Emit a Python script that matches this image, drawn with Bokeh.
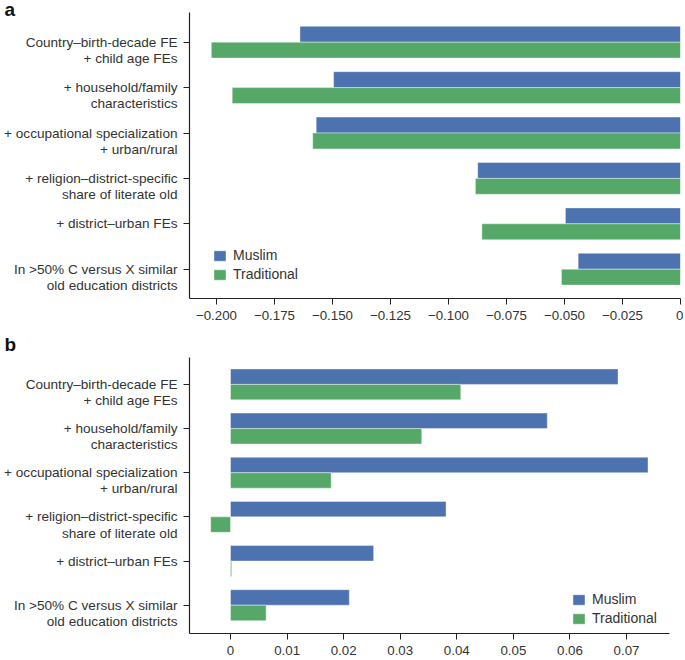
from bokeh.plotting import figure
from bokeh.models import ColumnDataSource, Range1d, FixedTicker
from bokeh.layouts import column
from bokeh.transform import dodge
from bokeh.embed import file_html
from bokeh.resources import INLINE

categories = [
    "Country\u2013birth-decade FE\n+ child age FEs",
    "+ household/family\ncharacteristics",
    "+ occupational specialization\n+ urban/rural",
    "+ religion\u2013district-specific\nshare of literate old",
    "+ district\u2013urban FEs",
    "In >50% C versus X similar\nold education districts",
]
rows = [0, 1, 2, 3, 4, 5]

muslim_a = [-0.164, -0.1495, -0.157, -0.0874, -0.0496, -0.0441]
traditional_a = [-0.2022, -0.1932, -0.1585, -0.0884, -0.0856, -0.0513]
muslim_b = [0.0685, 0.0560, 0.0738, 0.0381, 0.0253, 0.0210]
traditional_b = [0.0407, 0.0338, 0.0178, -0.0035, 0.0002, 0.0063]

ticks_a = [-0.2, -0.175, -0.15, -0.125, -0.1, -0.075, -0.05, -0.025, 0]
tick_labels_a = ["\u22120.200", "\u22120.175", "\u22120.150", "\u22120.125", "\u22120.100",
                 "\u22120.075", "\u22120.050", "\u22120.025", "0"]
ticks_b = [0, 0.01, 0.02, 0.03, 0.04, 0.05, 0.06, 0.07]
tick_labels_b = ["0", "0.01", "0.02", "0.03", "0.04", "0.05", "0.06", "0.07"]

BLUE = "#4c72b0"
GREEN = "#55a868"
FONT = "Liberation Sans"
TXT = "#333333"


def axis_label(c):
    # matplotlib places the first line of a two-line tick label at the tick
    return "\n" + c if "\n" in c else c


def make_panel(letter, muslim, trad, ticks, tick_labels, xr, yr, height,
               border_top, border_bottom, border_right, legend_loc, title_standoff):
    src = ColumnDataSource(dict(row=rows, muslim=muslim, trad=trad))
    p = figure(width=683, height=height, x_range=Range1d(*xr), y_range=Range1d(*yr),
               output_backend="svg", toolbar_location=None, title=letter,
               min_border_left=189, min_border_right=border_right,
               min_border_top=border_top, min_border_bottom=border_bottom,
               frame_align=False)
    p.hbar(y=dodge("row", -0.175, range=p.y_range), left=0, right="muslim", height=0.35,
           source=src, fill_color=BLUE, line_color="white", line_alpha=0.5, line_width=0.8,
           legend_label="Muslim")
    p.hbar(y=dodge("row", 0.175, range=p.y_range), left=0, right="trad", height=0.35,
           source=src, fill_color=GREEN, line_color="white", line_alpha=0.5, line_width=0.8,
           legend_label="Traditional")
    p.xgrid.visible = False
    p.ygrid.visible = False
    p.outline_line_color = None

    p.title.align = "left"
    p.title.offset = -185
    p.title.standoff = title_standoff
    p.title.text_font = FONT
    p.title.text_font_style = "bold"
    p.title.text_font_size = "19px"
    p.title.text_color = "#111111"

    p.yaxis.ticker = FixedTicker(ticks=rows)
    p.yaxis.major_label_overrides = {r: axis_label(c) for r, c in zip(rows, categories)}
    p.xaxis.ticker = FixedTicker(ticks=ticks)
    p.xaxis.major_label_overrides = {t: l for t, l in zip(ticks, tick_labels)}
    for ax in (p.xaxis[0], p.yaxis[0]):
        ax.minor_tick_line_color = None
        ax.major_tick_in = 0
        ax.major_tick_out = 6
        ax.major_label_text_font = FONT
        ax.major_label_text_color = TXT
        ax.axis_line_color = "#222222"
        ax.major_tick_line_color = "#222222"
        ax.axis_line_width = 1.2
        ax.major_label_standoff = 6
    p.yaxis.major_label_text_font_size = "13.6px"
    p.yaxis.major_label_text_line_height = 1.08
    p.xaxis.major_label_text_font_size = "13.3px"

    lg = p.legend[0]
    lg.location = legend_loc
    lg.border_line_alpha = 0
    lg.background_fill_alpha = 0
    lg.padding = 0
    lg.margin = 0
    lg.spacing = 3
    lg.glyph_width = 15
    lg.glyph_height = 13
    lg.label_height = 13
    lg.label_standoff = 6
    lg.label_text_font = FONT
    lg.label_text_font_size = "14px"
    lg.label_text_color = TXT
    return p


pa = make_panel("a", muslim_a, traditional_a, ticks_a, tick_labels_a,
                (-0.2116, 0.0), (5.645, -0.654), 328, 12, 30, 3, (23, 16), -15)
pb = make_panel("b", muslim_b, traditional_b, ticks_b, tick_labels_b,
                (-0.00725, 0.0776), (5.641, -0.609), 329, 29, 20, 14, (382, 7), 5)

layout = column(pa, pb)
open("out.html", "w").write(file_html(layout, INLINE))
